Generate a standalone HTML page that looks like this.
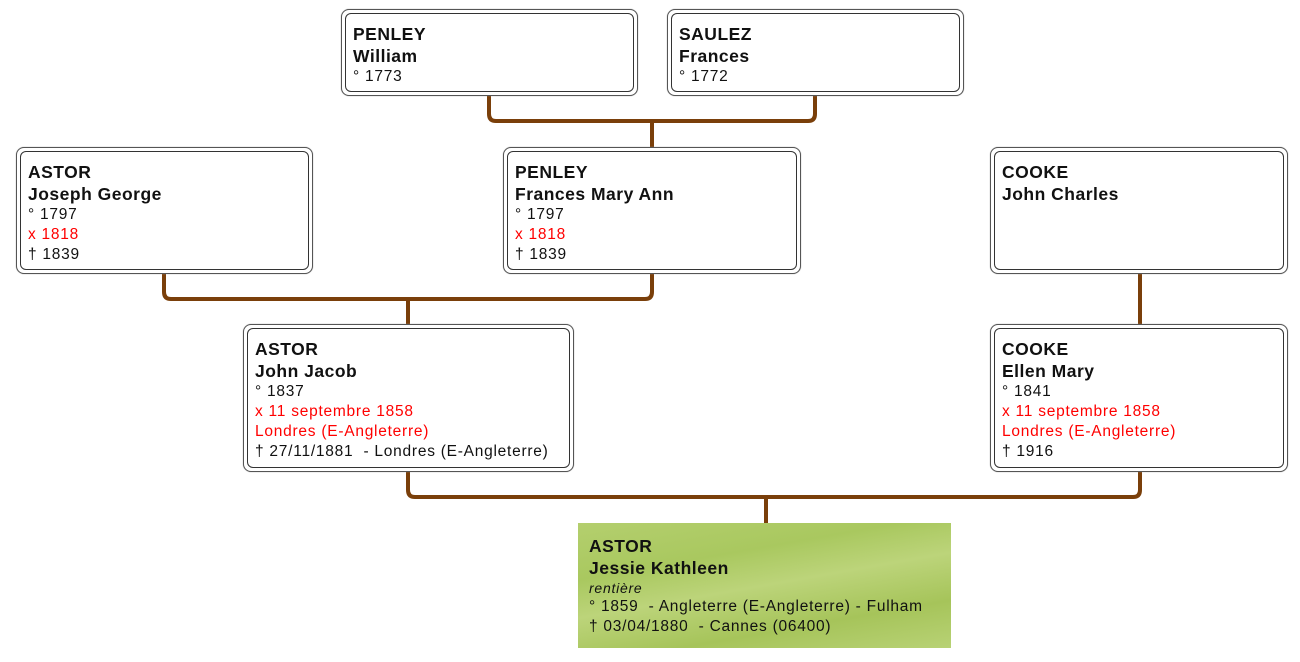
<!DOCTYPE html>
<html><head><meta charset="utf-8"><style>
body{margin:0;width:1300px;height:662px;background:#fff;position:relative;overflow:hidden;font-family:"Liberation Sans","DejaVu Sans",sans-serif}
.b{position:absolute;box-sizing:border-box;border:1px solid #555;border-radius:8px;background:#fff;box-shadow:0 0 1px #999}
.b .i{position:absolute;left:3px;top:3px;right:3px;bottom:3px;border:1px solid #333;border-radius:6px;padding:9px 0 0 7px;box-sizing:border-box}
.n{font-weight:bold;font-size:17.5px;line-height:22px;color:#111;letter-spacing:0.5px}
.d{font-size:15.5px;line-height:20px;color:#111;letter-spacing:0.75px}
.r{color:#f00}
.g{position:absolute;left:578px;top:523px;width:373px;height:125px;background:linear-gradient(170deg,#b4cf6e,#a9c85f 30%,#bcd47a 50%,#a6c45a 75%,#b8d275);padding:12px 0 0 11px;box-sizing:border-box}
svg{position:absolute;left:0;top:0}
</style></head><body>
<svg width="1300" height="662"><g fill="none" stroke="#7a3f0a" stroke-width="4" stroke-linejoin="round">
<path d="M489 96 V114 Q489 121 496 121 H808 Q815 121 815 114 V96"/><path d="M652 121 V147"/>
<path d="M164 274 V292 Q164 299 171 299 H645 Q652 299 652 292 V274"/><path d="M408 299 V324"/>
<path d="M1140 274 V324"/>
<path d="M408 472 V490 Q408 497 415 497 H1133 Q1140 497 1140 490 V472"/><path d="M766 497 V523"/>
</g></svg>
<div class="b" style="left:341px;top:9px;width:297px;height:87px"><div class="i"><div class="n">PENLEY<br>William</div><div class="d">° 1773</div></div></div>
<div class="b" style="left:667px;top:9px;width:297px;height:87px"><div class="i"><div class="n">SAULEZ<br>Frances</div><div class="d">° 1772</div></div></div>
<div class="b" style="left:16px;top:147px;width:297px;height:127px"><div class="i"><div class="n">ASTOR<br>Joseph George</div><div class="d">° 1797<br><span class="r">x 1818</span><br>† 1839</div></div></div>
<div class="b" style="left:503px;top:147px;width:298px;height:127px"><div class="i"><div class="n">PENLEY<br>Frances Mary Ann</div><div class="d">° 1797<br><span class="r">x 1818</span><br>† 1839</div></div></div>
<div class="b" style="left:990px;top:147px;width:298px;height:127px"><div class="i"><div class="n">COOKE<br>John Charles</div></div></div>
<div class="b" style="left:243px;top:324px;width:331px;height:148px"><div class="i"><div class="n">ASTOR<br>John Jacob</div><div class="d">° 1837<br><span class="r">x 11 septembre 1858<br>Londres (E-Angleterre)</span><br>† 27/11/1881&nbsp; - Londres (E-Angleterre)</div></div></div>
<div class="b" style="left:990px;top:324px;width:298px;height:148px"><div class="i"><div class="n">COOKE<br>Ellen Mary</div><div class="d">° 1841<br><span class="r">x 11 septembre 1858<br>Londres (E-Angleterre)</span><br>† 1916</div></div></div>
<div class="g"><div class="n">ASTOR<br>Jessie Kathleen</div><div class="d" style="font-style:italic;font-size:14px;line-height:18px">rentière</div><div class="d">° 1859&nbsp; - Angleterre (E-Angleterre) - Fulham<br>† 03/04/1880&nbsp; - Cannes (06400)</div></div>
</body></html>
